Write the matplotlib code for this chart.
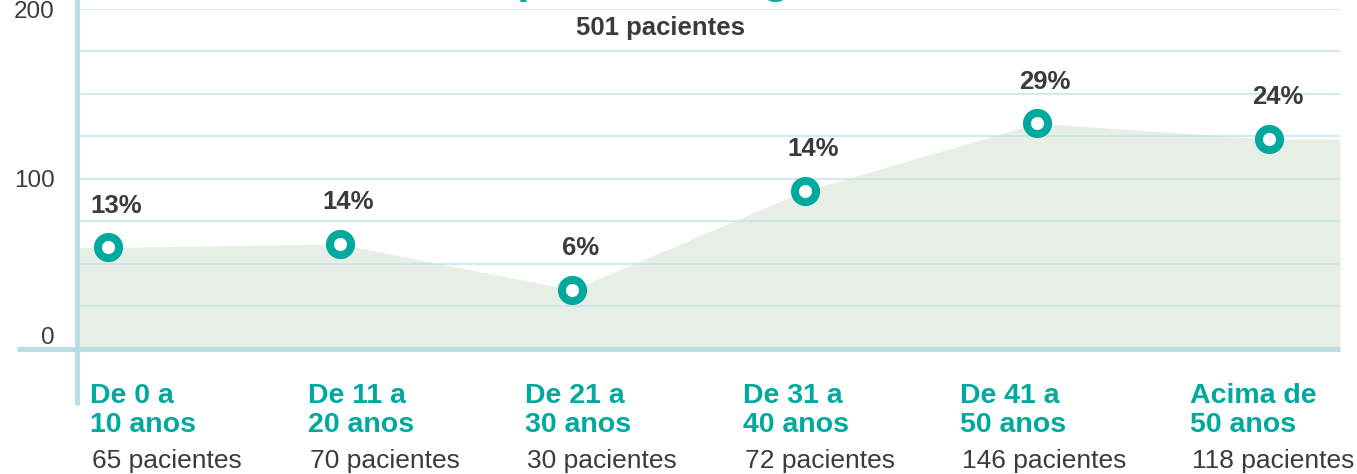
import matplotlib
matplotlib.use("Agg")
import matplotlib.pyplot as plt
import numpy as np

plt.rcParams['font.family'] = ['Liberation Sans', 'DejaVu Sans']

# ---- data ----
categories_l1 = ["De 0 a", "De 11 a", "De 21 a", "De 31 a", "De 41 a", "Acima de"]
categories_l2 = ["10 anos", "20 anos", "30 anos", "40 anos", "50 anos", "50 anos"]
patients = ["65 pacientes", "70 pacientes", "30 pacientes", "72 pacientes", "146 pacientes", "118 pacientes"]
values = [59.5, 61.5, 34.5, 92.8, 132.7, 123.4]
percent_labels = ["13%", "14%", "6%", "14%", "29%", "24%"]
yticks = [0, 100, 200]
subtitle = "501 pacientes"
title_prefix = "Pacientes "
title_rest = "por idade e gênero"

TEAL = "#00a99d"
DARK = "#3b3b3b"
GRID = "#c3e4ea"
AXIS = "#b8dee4"
FILL = "#e7eee6"

W, H = 1357, 474
fig = plt.figure(figsize=(W / 100, H / 100), dpi=100)
left_px, right_px, bottom_px, top_px = 77, 1340, 348.5, 9
ax = fig.add_axes([left_px / W, 1 - bottom_px / H, (right_px - left_px) / W, (bottom_px - top_px) / H])

x = np.arange(len(values))
step_px = 232.2
x0 = -(108 - left_px) / step_px
x1 = (right_px - 108) / step_px
ax.set_xlim(x0, x1)
ax.set_ylim(0, 200)

# area
xf = np.concatenate([[x0], x, [x1]])
yf = np.concatenate([[values[0]], values, [values[-1]]])
ax.fill_between(xf, 0, yf, color=FILL, zorder=1, linewidth=0)

# grid
for g in np.arange(25, 201, 25):
    ax.axhline(g, color=GRID, lw=1.1, zorder=2)

# markers
ax.plot(x, values, linestyle='none', marker='o', markersize=15.2, markerfacecolor='white',
        markeredgecolor=TEAL, markeredgewidth=5.8, zorder=5)

for xi, v, lab in zip(x, values, percent_labels):
    ax.annotate(lab, (xi, v), xytext=(6, 30), textcoords='offset points', ha='center', va='center',
                fontsize=18.5, fontweight='bold', color=DARK, zorder=6)

# spines / axis lines
for s in ax.spines.values():
    s.set_visible(False)
ax.set_xticks([])
ax.set_yticks(yticks)
ax.set_yticklabels([str(t) for t in yticks])
ax.tick_params(axis='y', length=0, pad=16, labelsize=17.5, labelcolor=DARK)
for t in ax.get_yticklabels():
    if t.get_text() == "0":
        t.set_va('bottom')

# vertical axis line (extends below)
ax.plot([x0, x0], [-(405 - bottom_px) / (bottom_px - top_px) * 200, 215], color=AXIS, lw=3.6,
        clip_on=False, zorder=3, solid_capstyle='butt')
# bottom line (extends left)
ax.plot([x0 - (left_px - 17) / step_px, x1], [0, 0], color=AXIS, lw=3.6, clip_on=False, zorder=3,
        solid_capstyle='butt')

# subtitle
fig.text(660 / W, 1 - 28 / H, subtitle, ha='center', va='center', fontsize=18.5, fontweight='bold', color=DARK)

# cut-off title above the canvas: place so that the "p" of "por" sits at x~517
TITLE_FS = 31.5
renderer = fig.canvas.get_renderer()
tmp = fig.text(0, 0, title_prefix, fontsize=TITLE_FS, fontweight='bold')
prefix_w = tmp.get_window_extent(renderer=renderer).width
tmp.remove()
fig.text((517 - prefix_w) / W, 1 + 7 / H, title_prefix + title_rest, ha='left', va='baseline',
         fontsize=TITLE_FS, fontweight='bold', color=TEAL)

# category labels
label_left_px = [90, 308, 525, 743, 960, 1190]
for xp_px, l1, l2, p in zip(label_left_px, categories_l1, categories_l2, patients):
    xp = xp_px / W
    fig.text(xp, 1 - 396 / H, l1, ha='left', va='center', fontsize=20.5, fontweight='bold', color=TEAL)
    fig.text(xp, 1 - 425 / H, l2, ha='left', va='center', fontsize=20.5, fontweight='bold', color=TEAL)
    fig.text(xp + 2 / W, 1 - 461 / H, p, ha='left', va='center', fontsize=19, color=DARK)

fig.savefig("out.png", dpi=100)
